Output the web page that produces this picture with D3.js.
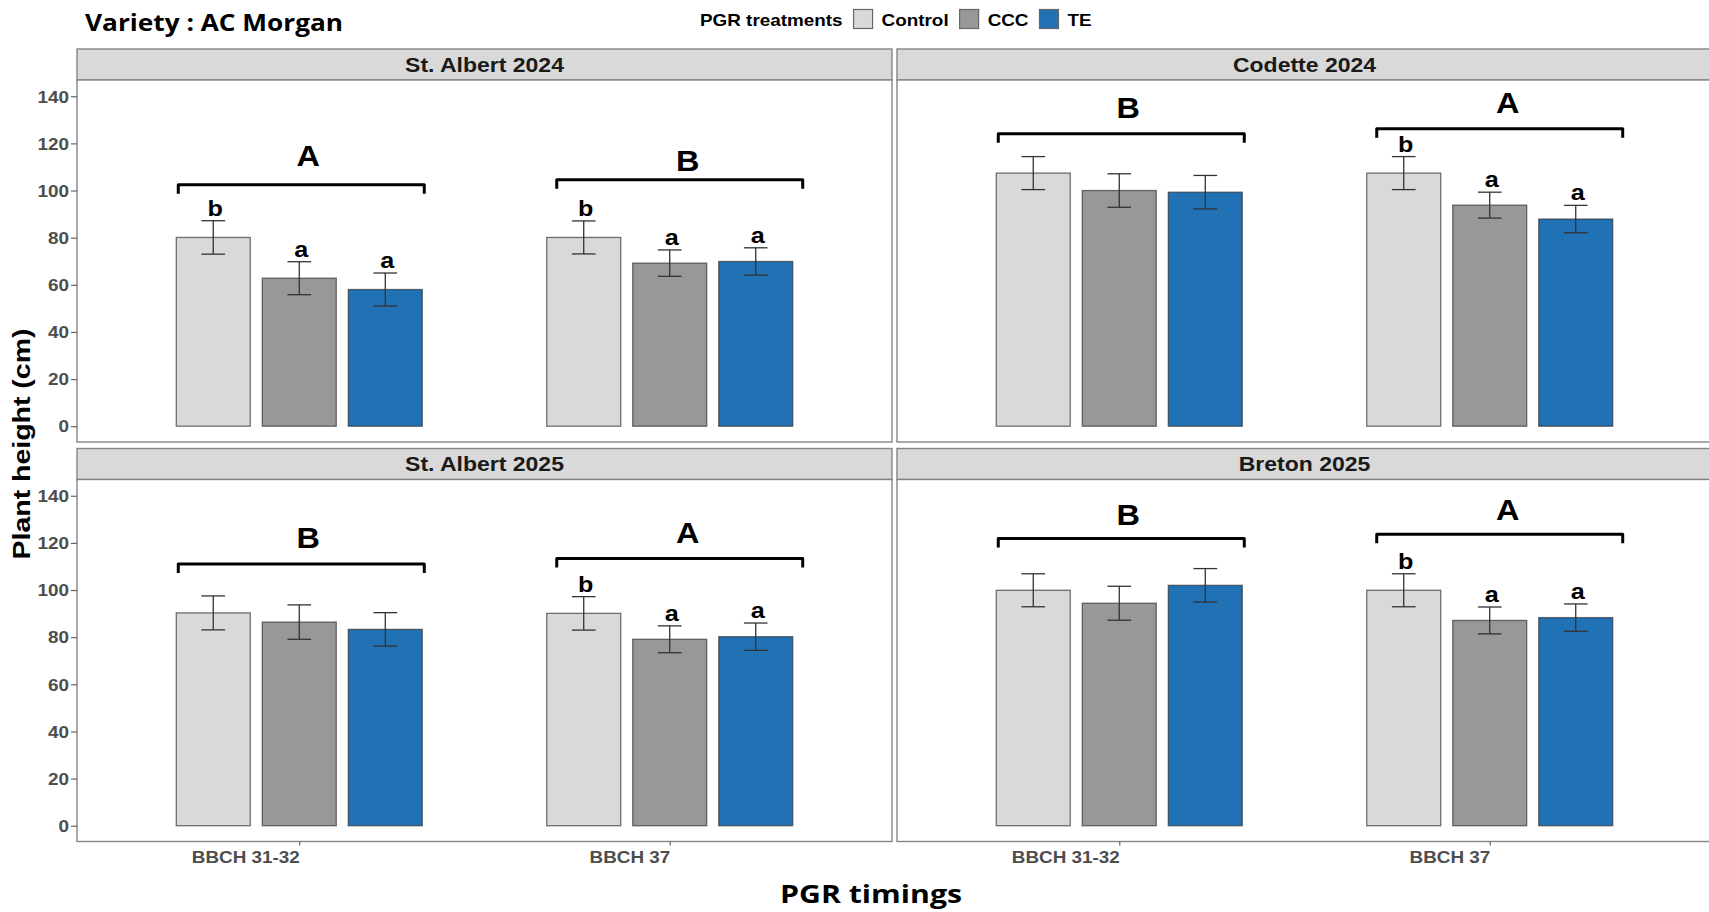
<!DOCTYPE html>
<html><head><meta charset="utf-8">
<script src="https://cdn.jsdelivr.net/npm/d3@7"></script>
<style>
body{margin:0;background:#fff}
svg{display:block}
text{font-family:"Liberation Sans",Arial,sans-serif;font-weight:bold}
</style>
</head><body>
<svg id="chart" width="1709" height="912"></svg>
<script>
// ---------------- DATA ----------------
const treatments = ["Control", "CCC", "TE"];
const timings = ["BBCH 31-32", "BBCH 37"];
const sites = ["St. Albert 2024", "Codette 2024", "St. Albert 2025", "Breton 2025"];
const yTicks = [0, 20, 40, 60, 80, 100, 120, 140];

// mean plant height (cm): [timing][treatment]
const meanStAlbert2024 = [[80.1, 62.8, 58.0], [80.1, 69.2, 69.9]];
const meanCodette2024  = [[107.4, 100.0, 99.3], [107.4, 93.8, 87.9]];
const meanStAlbert2025 = [[90.3, 86.4, 83.3], [90.1, 79.1, 80.2]];
const meanBreton2025   = [[99.9, 94.4, 102.0], [99.9, 87.1, 88.3]];

// standard error: [timing][treatment]
const seStAlbert2024 = [[7.1, 7.0, 7.0], [7.0, 5.6, 5.8]];
const seCodette2024  = [[7.0, 7.1, 7.1], [7.0, 5.5, 5.8]];
const seStAlbert2025 = [[7.2, 7.3, 7.1], [7.1, 5.7, 5.8]];
const seBreton2025   = [[7.0, 7.2, 7.1], [7.0, 5.7, 5.8]];

// mean-separation letters within timing
const letStAlbert2024 = [["b", "a", "a"], ["b", "a", "a"]];
const letCodette2024  = [["", "", ""], ["b", "a", "a"]];
const letStAlbert2025 = [["", "", ""], ["b", "a", "a"]];
const letBreton2025   = [["", "", ""], ["b", "a", "a"]];

// timing letters (upper case) with bracket height and letter height (cm units)
const groupLetStAlbert2024 = ["A", "B"];
const groupLetCodette2024  = ["B", "A"];
const groupLetStAlbert2025 = ["B", "A"];
const groupLetBreton2025   = ["B", "A"];
const bracketStAlbert2024 = [102.5, 104.6];
const bracketCodette2024  = [124.1, 126.2];
const bracketStAlbert2025 = [111.0, 113.4];
const bracketBreton2025   = [121.9, 123.7];
const glYStAlbert2024 = [114.7, 112.7];
const glYCodette2024  = [135.1, 137.2];
const glYStAlbert2025 = [122.3, 124.4];
const glYBreton2025   = [132.2, 134.1];

const panels = [
  {site: sites[0], mean: meanStAlbert2024, se: seStAlbert2024, let: letStAlbert2024, gl: groupLetStAlbert2024, br: bracketStAlbert2024, gly: glYStAlbert2024},
  {site: sites[1], mean: meanCodette2024,  se: seCodette2024,  let: letCodette2024,  gl: groupLetCodette2024,  br: bracketCodette2024,  gly: glYCodette2024},
  {site: sites[2], mean: meanStAlbert2025, se: seStAlbert2025, let: letStAlbert2025, gl: groupLetStAlbert2025, br: bracketStAlbert2025, gly: glYStAlbert2025},
  {site: sites[3], mean: meanBreton2025,   se: seBreton2025,   let: letBreton2025,   gl: groupLetBreton2025,   br: bracketBreton2025,   gly: glYBreton2025}
];

// ---------------- STYLE / LAYOUT ----------------
const fills = {Control: "#d9d9d9", CCC: "#989898", TE: "#2171b5"};
const K = 1.18; // horizontal text stretch of the original raster
const colX = [77, 897], panelW = 815;
const stripTop = [49, 448.5], stripH = 31, panelH = 362;
const bracketDx = [2, 10];   // hand-placed annotation nudges (px) per timing
const bigLetterDx = [9, 18];

const svg = d3.select("#chart");

function txt(parent, x, y, s, size, opts = {}) {
  const k = opts.k || K;
  return parent.append("text")
    .attr("x", 0).attr("y", 0)
    .attr("transform", `translate(${x},${y})` + (opts.rotate ? ` rotate(${opts.rotate})` : "") + ` scale(${k},1)`)
    .attr("text-anchor", opts.anchor || "start")
    .attr("font-size", size)
    .attr("fill", opts.fill || "#000")
    .style("font-family", opts.family || null)
    .text(s);
}
function fitText(sel, width) {
  const n = sel.node();
  const len = n.getComputedTextLength();
  const tr = sel.attr("transform").replace(/scale\([^)]*\)/, `scale(${width / len},1)`);
  sel.attr("transform", tr);
}

// title
fitText(txt(svg, 85, 31, "Variety : AC Morgan", 23.5, {family: "'Open Sans', sans-serif"}), 258);

// legend
(function () {
  const g = svg.append("g");
  let x = 700;
  const lt = txt(g, x, 25.5, "PGR treatments", 16);
  x += lt.node().getComputedTextLength() * K + 11;
  treatments.forEach(t => {
    g.append("rect").attr("x", x).attr("y", 9.5).attr("width", 19).attr("height", 19)
      .attr("fill", fills[t]).attr("stroke", "#666").attr("stroke-width", 1.2);
    x += 19 + 9;
    const tt = txt(g, x, 25.5, t, 16);
    x += tt.node().getComputedTextLength() * K + 11;
  });
})();

const yDomain = [-6.7, 146.9];

panels.forEach((p, i) => {
  const col = i % 2, row = Math.floor(i / 2);
  const x0 = colX[col];
  const sTop = stripTop[row];
  const pTop = sTop + stripH;
  const pBot = pTop + panelH;

  const x = d3.scaleBand().domain(timings).range([x0, x0 + panelW]).paddingInner(0).paddingOuter(0.1);
  const groupHalf = x.step() * 0.332;
  const xi = d3.scaleBand().domain(treatments).range([-groupHalf, groupHalf]).paddingInner(0.14).paddingOuter(0);
  const y = d3.scaleLinear().domain(yDomain).range([pBot, pTop]);

  const g = svg.append("g");

  // strip
  g.append("rect").attr("x", x0).attr("y", sTop).attr("width", panelW).attr("height", stripH)
    .attr("fill", "#d9d9d9").attr("stroke", "#858585").attr("stroke-width", 1.4);
  txt(g, x0 + panelW / 2, sTop + stripH / 2 + 7, p.site, 19.5, {anchor: "middle", fill: "#1a1a1a"});

  // panel background + border
  g.append("rect").attr("x", x0).attr("y", pTop).attr("width", panelW).attr("height", panelH)
    .attr("fill", "#fff").attr("stroke", "#858585").attr("stroke-width", 1.4);

  const rows = [];
  timings.forEach((tm, ti) => treatments.forEach((tr, ri) => rows.push({
    tm, tr, m: p.mean[ti][ri], se: p.se[ti][ri], l: p.let[ti][ri]
  })));

  const cx = d => x(d.tm) + x.bandwidth() / 2 + xi(d.tr) + xi.bandwidth() / 2;

  // bars
  g.selectAll("rect.bar").data(rows).join("rect").attr("class", "bar")
    .attr("x", d => x(d.tm) + x.bandwidth() / 2 + xi(d.tr))
    .attr("width", xi.bandwidth())
    .attr("y", d => y(d.m))
    .attr("height", d => y(0) - y(d.m))
    .attr("fill", d => fills[d.tr])
    .attr("stroke", "#2b2b2b").attr("stroke-opacity", 0.65).attr("stroke-width", 1.3);

  // error bars
  const capHalf = xi.bandwidth() * 0.16;
  const eb = g.selectAll("g.eb").data(rows).join("g").attr("class", "eb")
    .attr("stroke", "#333").attr("stroke-width", 1.3).attr("fill", "none");
  eb.append("line").attr("x1", cx).attr("x2", cx).attr("y1", d => y(d.m + d.se)).attr("y2", d => y(d.m - d.se));
  eb.append("line").attr("x1", d => cx(d) - capHalf).attr("x2", d => cx(d) + capHalf)
    .attr("y1", d => y(d.m + d.se)).attr("y2", d => y(d.m + d.se));
  eb.append("line").attr("x1", d => cx(d) - capHalf).attr("x2", d => cx(d) + capHalf)
    .attr("y1", d => y(d.m - d.se)).attr("y2", d => y(d.m - d.se));

  // small letters
  rows.filter(d => d.l).forEach(d => {
    txt(g, cx(d) + 2, y(d.m + d.se) - 5, d.l, 22.5, {anchor: "middle", k: 1.12});
  });

  // brackets + group letters
  timings.forEach((tm, ti) => {
    const c = x(tm) + x.bandwidth() / 2;
    const l = c - groupHalf + bracketDx[ti], r = c + groupHalf + bracketDx[ti];
    const by = y(p.br[ti]);
    g.append("path").attr("d", `M${l},${by + 9}V${by}H${r}V${by + 9}`)
      .attr("fill", "none").attr("stroke", "#000").attr("stroke-width", 3).attr("stroke-linejoin", "round");
    txt(g, c + bigLetterDx[ti], y(p.gly[ti]) + 10.5, p.gl[ti], 29.5, {anchor: "middle", k: 1.1});
  });

  // y axis (left column only)
  if (col === 0) {
    const ax = g.append("g").attr("transform", `translate(${x0},0)`)
      .call(d3.axisLeft(y).tickValues(yTicks).tickSize(6).tickPadding(2));
    ax.select(".domain").remove();
    ax.selectAll(".tick line").attr("stroke", "#666").attr("stroke-width", 1.2);
    ax.selectAll(".tick text").each(function () {
      const t = d3.select(this);
      const tx = +t.attr("x");
      t.attr("x", 0).attr("dy", "0.36em").attr("transform", `translate(${tx},0) scale(${K},1)`)
        .attr("font-size", 16).attr("fill", "#4d4d4d").style("font-family", "'Liberation Sans',Arial,sans-serif")
        .style("font-weight", "bold");
    });
  }
  // x axis (bottom row only)
  if (row === 1) {
    const xp = d3.scalePoint().domain(timings)
      .range([x(timings[0]) + x.bandwidth() / 2, x(timings[1]) + x.bandwidth() / 2]);
    const ax = g.append("g").attr("transform", `translate(0,${pBot})`)
      .call(d3.axisBottom(xp).tickSize(4).tickPadding(6));
    ax.select(".domain").remove();
    ax.selectAll(".tick line").attr("stroke", "#666").attr("stroke-width", 1.2);
    ax.selectAll(".tick text").each(function () {
      const t = d3.select(this);
      const ty = +t.attr("y");
      t.attr("y", 0).attr("transform", `translate(0,${ty}) scale(${K},1)`)
        .attr("text-anchor", "end")
        .attr("font-size", 16).attr("fill", "#4d4d4d").style("font-family", "'Liberation Sans',Arial,sans-serif")
        .style("font-weight", "bold");
    });
  }
});

// axis titles
fitText(txt(svg, 30, 444, "Plant height (cm)", 23, {anchor: "middle", rotate: -90}), 231);
fitText(txt(svg, 871, 903, "PGR timings", 25.5, {anchor: "middle", family: "'Open Sans', sans-serif"}), 182);
</script>
</body></html>
